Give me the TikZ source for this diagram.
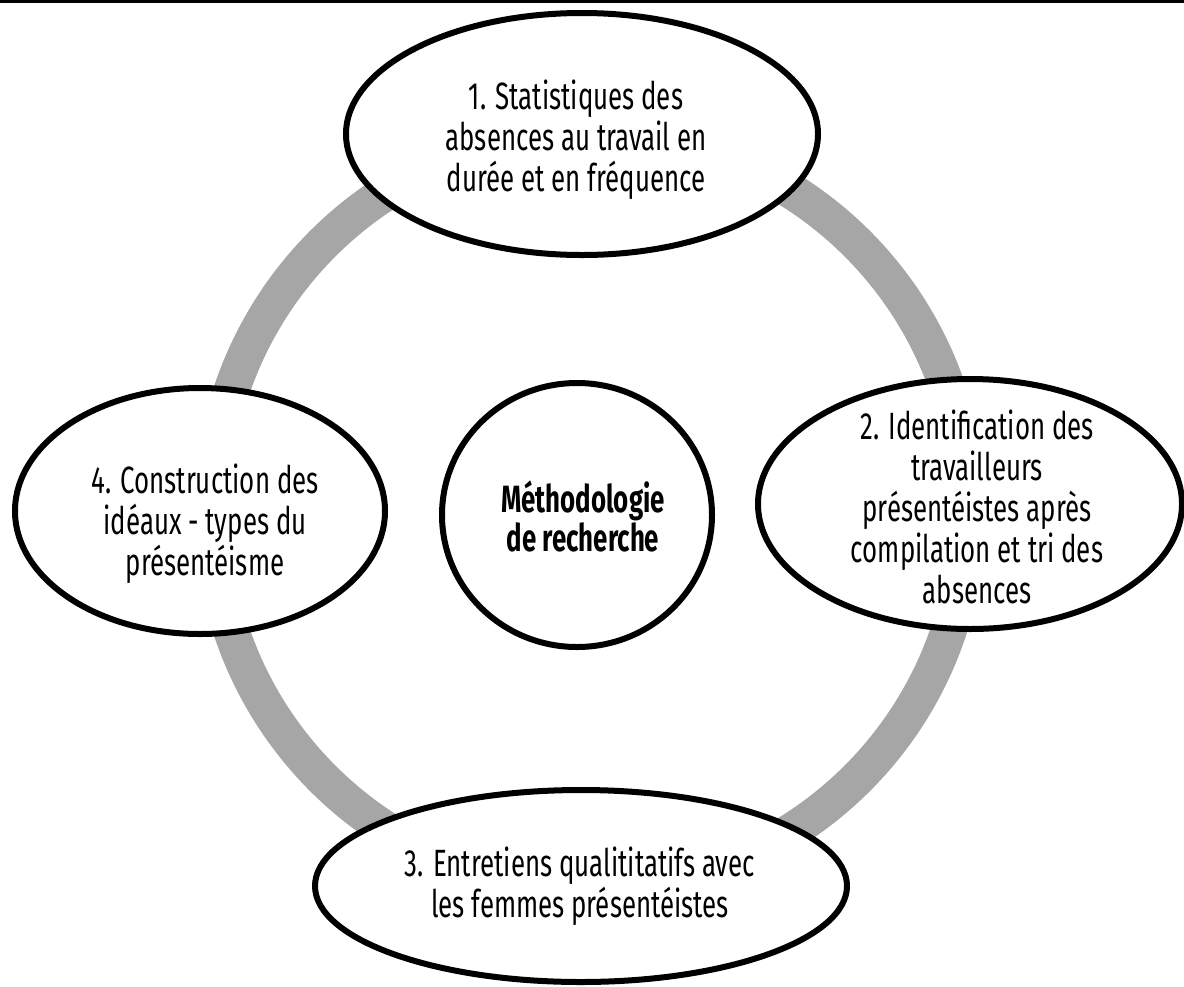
\documentclass[tikz,border=0pt]{standalone}
\usepackage{fontspec}
\setmainfont{Fira Sans}[FakeStretch=0.68]
\usetikzlibrary{shapes.geometric}
\definecolor{ringgray}{RGB}{166,166,166}
\begin{document}
\begin{tikzpicture}[x=1pt,y=-1pt,
  bubble/.style={draw=black, line width=6pt, fill=white, ellipse, inner sep=0pt, outer sep=0pt},
  txt/.style={align=center, font=\fontsize{38}{41}\selectfont, inner sep=0pt},
  ring/.style={draw=ringgray, line width=36pt},
  topline/.style={draw=black, line width=2.5pt}
]
\useasboundingbox (0,0) rectangle (1184,986);
\coordinate (tl) at (0,1.3);
\coordinate (tr) at (1184,1.3);
\draw[topline] (tl) -- (tr);
\coordinate (ringc) at (590,511);
\draw[ring] (ringc) circle[radius=378pt];

\node[bubble, minimum width=472pt, minimum height=242pt] (e1) at (582,134) {};
\node[bubble, minimum width=424pt, minimum height=250pt] (e2) at (970,504) {};
\node[bubble, minimum width=532pt, minimum height=192pt] (e3) at (581,886) {};
\node[bubble, minimum width=370pt, minimum height=246pt] (e4) at (200,511) {};
\node[bubble, minimum width=270pt, minimum height=264pt] (c) at (577,515) {};

\node[txt] (t1) at (576,140) {1. Statistiques des\\absences au travail en\\durée et en fréquence};
\node[txt] (t2) at (977,507) {2. Identification des\\travailleurs\\présentéistes après\\compilation et tri des\\absences};
\node[txt] (t3) at (580,886) {3. Entretiens qualititatifs avec\\les femmes présentéistes};
\node[txt] (t4) at (205,524) {4. Construction des\\idéaux - types du\\présentéisme};
\node[txt, font=\fontsize{38}{39}\selectfont\bfseries] (tc) at (583,516) {Méthodologie\\de recherche};
\end{tikzpicture}
\end{document}
